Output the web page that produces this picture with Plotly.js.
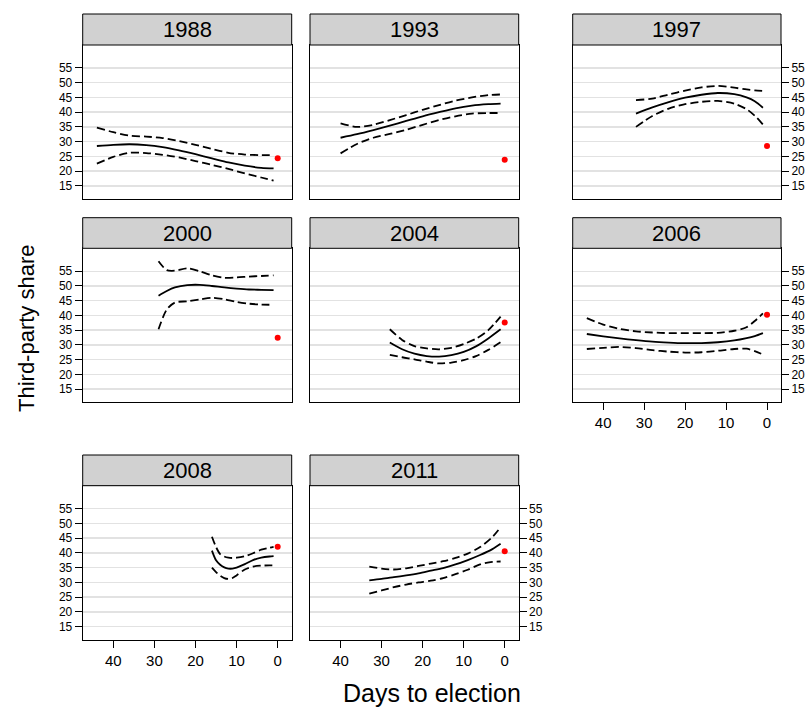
<!DOCTYPE html>
<html>
<head>
<meta charset="utf-8">
<script src="https://cdn.plot.ly/plotly-3.0.1.min.js"></script>
<style>html,body{margin:0;padding:0;background:#fff;}#chart{width:809px;height:707px;}</style>
</head>
<body>
<div id="chart"></div>
<script>
// ---- data ----
const years = ["1988", "1993", "1997", "2000", "2004", "2006", "2008", "2011"];
const results = [24.3, 23.8, 28.5, 32.4, 37.6, 40.2, 42.1, 40.6];

const days1988  = [44, 40, 36, 32, 28, 24, 20, 16, 12, 8, 4, 1];
const fit1988   = [28.5, 28.9, 29.1, 28.8, 28.1, 27.0, 25.7, 24.3, 22.9, 21.8, 21.1, 20.9];
const upper1988 = [34.7, 33.2, 32.0, 31.7, 31.2, 30.2, 28.9, 27.5, 26.2, 25.6, 25.4, 25.4];
const lower1988 = [22.5, 24.8, 26.2, 26.1, 25.5, 24.6, 23.4, 22.1, 20.7, 19.2, 17.8, 16.7];

const days1993  = [40, 36, 32, 28, 24, 20, 16, 12, 8, 4, 1];
const fit1993   = [31.3, 32.5, 33.9, 35.4, 37.0, 38.6, 40.0, 41.3, 42.2, 42.7, 42.9];
const upper1993 = [36.2, 35.0, 35.7, 37.3, 39.0, 40.8, 42.4, 43.9, 45.0, 45.8, 46.0];
const lower1993 = [26.0, 29.2, 31.3, 32.6, 34.0, 35.7, 37.3, 38.6, 39.5, 39.7, 39.7];

const days1997  = [32, 28, 24, 20, 16, 12, 8, 5, 3, 1];
const fit1997   = [39.5, 41.6, 43.4, 44.9, 45.9, 46.5, 46.1, 45.0, 43.7, 41.5];
const upper1997 = [44.1, 44.6, 46.0, 47.3, 48.4, 48.9, 48.3, 47.7, 47.4, 47.2];
const lower1997 = [35.0, 38.7, 41.2, 42.7, 43.5, 43.8, 42.9, 41.0, 38.8, 35.8];

const days2000  = [29, 27, 25, 22, 19, 16, 13, 10, 7, 4, 1];
const fit2000   = [46.7, 48.3, 49.5, 50.3, 50.4, 50.0, 49.5, 49.1, 48.8, 48.7, 48.6];
const upper2000 = [58.4, 55.4, 55.2, 56.0, 55.0, 53.6, 52.8, 52.9, 53.2, 53.4, 53.6];
const lower2000 = [35.3, 42.0, 44.4, 44.8, 45.4, 46.0, 45.5, 44.6, 44.0, 43.7, 43.6];

const days2004  = [28, 25, 22, 19, 16, 13, 10, 7, 4, 1];
const fit2004   = [30.8, 28.5, 27.0, 26.2, 26.0, 26.5, 27.6, 29.5, 32.2, 35.3];
const upper2004 = [35.3, 31.7, 29.6, 28.8, 28.5, 29.0, 30.3, 32.1, 35.0, 39.6];
const lower2004 = [26.6, 25.8, 25.1, 24.3, 23.7, 24.0, 24.8, 26.2, 28.3, 30.9];

const days2006  = [44, 40, 36, 32, 28, 24, 20, 16, 12, 8, 5, 3, 1];
const fit2006   = [33.7, 32.9, 32.2, 31.6, 31.1, 30.8, 30.6, 30.6, 30.9, 31.5, 32.3, 33.0, 34.0];
const upper2006 = [39.1, 36.9, 35.4, 34.6, 34.2, 34.0, 34.0, 34.0, 34.1, 34.8, 36.0, 38.1, 40.7];
const lower2006 = [28.6, 29.0, 29.3, 28.9, 28.2, 27.7, 27.4, 27.5, 28.0, 28.6, 28.7, 27.9, 26.7];

const days2008  = [16, 15, 14, 13, 12, 11, 10, 8, 6, 4, 2, 1];
const fit2008   = [40.8, 37.5, 36.0, 35.1, 34.7, 34.7, 35.0, 36.2, 37.6, 38.4, 38.8, 38.9];
const upper2008 = [45.5, 42.0, 39.6, 38.8, 38.4, 38.3, 38.4, 38.9, 39.9, 41.1, 41.8, 42.1];
const lower2008 = [35.0, 33.5, 32.3, 31.5, 31.2, 31.5, 32.4, 34.4, 35.4, 35.7, 35.8, 35.8];

const days2011  = [33, 30, 27, 24, 21, 18, 15, 12, 9, 6, 3, 1];
const fit2011   = [30.7, 31.2, 31.8, 32.4, 33.1, 34.0, 34.9, 36.1, 37.6, 39.3, 41.3, 43.1];
const upper2011 = [35.4, 34.7, 34.4, 34.8, 35.6, 36.4, 37.2, 38.3, 39.8, 42.0, 45.4, 48.7];
const lower2011 = [26.2, 27.3, 28.4, 29.3, 30.0, 30.6, 31.5, 32.8, 34.3, 36.1, 37.0, 37.1];

const yTicks = [15, 20, 25, 30, 35, 40, 45, 50, 55];
const xTicks = [40, 30, 20, 10, 0];
const resultDay = 0;

// ---- assemble ----
const panels = [
  [days1988, fit1988, upper1988, lower1988],
  [days1993, fit1993, upper1993, lower1993],
  [days1997, fit1997, upper1997, lower1997],
  [days2000, fit2000, upper2000, lower2000],
  [days2004, fit2004, upper2004, lower2004],
  [days2006, fit2006, upper2006, lower2006],
  [days2008, fit2008, upper2008, lower2008],
  [days2011, fit2011, upper2011, lower2011]
];

const W = 809, H = 707;
const colPx = [[82.7, 291.7], [310, 518.7], [572.7, 781]];
const rowPx = [ // [strip top, plot top, plot bottom]
  [14, 45, 199],
  [217.7, 248.3, 402.3],
  [455, 485.7, 640]
];
const FONT = "Liberation Sans, Arial, Helvetica, sans-serif";

const leftY = [0, 3, 6], rightY = [2, 5, 7], bottomX = [5, 6, 7];

const traces = [];
const layout = {
  width: W, height: H,
  margin: {l: 0, r: 0, t: 0, b: 0},
  paper_bgcolor: "#fff", plot_bgcolor: "#fff",
  showlegend: false,
  font: {family: FONT, color: "#000"},
  shapes: [], annotations: []
};

years.forEach((yr, i) => {
  const r = Math.floor(i / 3), c = i % 3;
  const sfx = i === 0 ? "" : String(i + 1);
  const xa = "x" + sfx, ya = "y" + sfx;
  const [d, fit, up, lo] = panels[i];
  const dashLine = {color: "#000", width: 1.8, dash: "8px,4px", shape: "spline", smoothing: 0.8};
  traces.push({x: d, y: up, xaxis: xa, yaxis: ya, mode: "lines", line: dashLine, hoverinfo: "skip"});
  traces.push({x: d, y: lo, xaxis: xa, yaxis: ya, mode: "lines", line: dashLine, hoverinfo: "skip"});
  traces.push({x: d, y: fit, xaxis: xa, yaxis: ya, mode: "lines",
    line: {color: "#000", width: 1.8, shape: "spline", smoothing: 0.8}, hoverinfo: "skip"});
  traces.push({x: [resultDay], y: [results[i]], xaxis: xa, yaxis: ya, mode: "markers",
    marker: {color: "#ff0000", size: 6}, hoverinfo: "skip"});

  const xd = [colPx[c][0] / W, colPx[c][1] / W];
  const yd = [(H - rowPx[r][2]) / H, (H - rowPx[r][1]) / H];
  const showX = bottomX.includes(i);
  const showYL = leftY.includes(i), showYR = rightY.includes(i);
  layout["xaxis" + sfx] = {
    domain: xd, anchor: ya, range: [47.45, -3.41],
    showgrid: false, zeroline: false,
    showline: true, mirror: true, linecolor: "#000", linewidth: 1,
    tickmode: "array", tickvals: xTicks, ticktext: xTicks.map(String),
    ticks: showX ? "outside" : "", ticklen: 7, tickwidth: 1, tickcolor: "#000",
    showticklabels: showX, tickfont: {size: 15, family: FONT, color: "#000"}
  };
  layout["yaxis" + sfx] = {
    domain: yd, anchor: xa, range: [10.5, 62.8],
    side: showYR ? "right" : "left",
    showgrid: true, gridcolor: "#e2e2e2", gridwidth: 1.5, zeroline: false,
    showline: true, mirror: true, linecolor: "#000", linewidth: 1,
    tickmode: "array", tickvals: yTicks, ticktext: yTicks.map(String),
    ticks: (showYL || showYR) ? "outside" : "", ticklen: 7, tickwidth: 1, tickcolor: "#000",
    showticklabels: showYL || showYR, tickfont: {size: 12, family: FONT, color: "#000"}
  };
  // strip
  layout.shapes.push({type: "rect", xref: "paper", yref: "paper",
    x0: xd[0], x1: xd[1], y0: (H - rowPx[r][1]) / H, y1: (H - rowPx[r][0]) / H,
    fillcolor: "#d1d1d1", line: {color: "#000", width: 1}, layer: "above"});
  layout.annotations.push({xref: "paper", yref: "paper",
    x: (xd[0] + xd[1]) / 2, y: (H - (rowPx[r][0] + rowPx[r][1]) / 2) / H,
    text: yr, showarrow: false, xanchor: "center", yanchor: "middle",
    font: {size: 22, family: FONT, color: "#000"}});
});

layout.annotations.push({xref: "paper", yref: "paper", x: 26 / W, y: (H - 328) / H,
  text: "Third-party share", textangle: -90, showarrow: false, xanchor: "center", yanchor: "middle",
  font: {size: 22, family: FONT, color: "#000"}});
layout.annotations.push({xref: "paper", yref: "paper", x: 432 / W, y: (H - 693) / H,
  text: "Days to election", showarrow: false, xanchor: "center", yanchor: "middle",
  font: {size: 25, family: FONT, color: "#000"}});

Plotly.newPlot("chart", traces, layout, {staticPlot: true, displayModeBar: false});
</script>
</body>
</html>
